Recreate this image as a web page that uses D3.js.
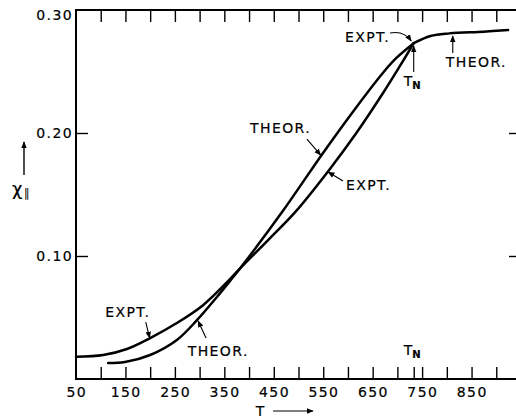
<!DOCTYPE html>
<html>
<head>
<meta charset="utf-8">
<script src="https://cdn.jsdelivr.net/npm/d3@7"></script>
<style>
  body { margin: 0; background: #fff; }
  svg { display: block; }
  text { font-family: "DejaVu Sans", sans-serif; fill: #000; stroke: #000; stroke-width: 0.2px; }
  .lbl { font-size: 14px; letter-spacing: 1.4px; }
</style>
</head>
<body>
<script>
// experimental curve, below T_N
var exptT   = [50, 105, 153, 200, 254, 307, 356, 382, 440, 495, 562, 617, 671, 704, 733];
var exptChi = [0.0181, 0.0195, 0.0244, 0.0333, 0.0455, 0.060, 0.0789, 0.090, 0.1135, 0.1365, 0.170, 0.200, 0.2325, 0.2537, 0.273];

// theoretical curve, below T_N
var theorT   = [115, 149, 200, 254, 295, 335, 368, 382, 469, 550, 617, 671, 698, 733];
var theorChi = [0.013, 0.0138, 0.0195, 0.0317, 0.048, 0.0667, 0.083, 0.090, 0.137, 0.184, 0.221, 0.249, 0.261, 0.273];

// both curves above T_N (they coincide)
var paraT   = [733, 767, 805, 874, 924];
var paraChi = [0.273, 0.2789, 0.281, 0.2824, 0.2837];

var tN = 733;
var xTickLabels = [50, 150, 250, 350, 450, 550, 650, 750, 850];
var xTickMarks = d3.range(100, 950, 50);
var yTickLabels = [0.10, 0.20, 0.30];
var yTickMarks = [0.10, 0.20];

var width = 516, height = 419;
var x = d3.scaleLinear().domain([50, 950]).range([76, 521]);
var y = d3.scaleLinear().domain([0, 0.30]).range([379, 10]);

var svg = d3.select("body").append("svg")
  .attr("width", width)
  .attr("height", height);

var defs = svg.append("defs");
defs.append("marker")
  .attr("id", "head")
  .attr("viewBox", "0 0 10 10")
  .attr("refX", 9).attr("refY", 5)
  .attr("markerWidth", 7).attr("markerHeight", 7)
  .attr("markerUnits", "userSpaceOnUse")
  .attr("orient", "auto")
  .append("path")
  .attr("d", "M0,1 L10,5 L0,9 Z")
  .attr("fill", "#000");

// frame
svg.append("path")
  .attr("d", "M" + x(950) + "," + y(0.30) + "H" + x(50) + "V" + y(0) + "H" + x(950))
  .attr("fill", "none")
  .attr("stroke", "#000")
  .attr("stroke-width", 2);

function styleTicks(g) {
  g.select(".domain").remove();
  g.selectAll(".tick line").attr("stroke", "#000").attr("stroke-width", 1.4);
  g.selectAll(".tick text").remove();
}

// inward ticks on all four sides
svg.append("g")
  .attr("transform", "translate(0," + y(0.30) + ")")
  .call(d3.axisBottom(x).tickValues(xTickMarks).tickSize(12))
  .call(styleTicks);
svg.append("g")
  .attr("transform", "translate(0," + y(0) + ")")
  .call(d3.axisTop(x).tickValues(xTickMarks.concat([tN])).tickSize(12))
  .call(styleTicks);
svg.append("g")
  .attr("transform", "translate(" + x(50) + ",0)")
  .call(d3.axisRight(y).tickValues(yTickMarks).tickSize(12))
  .call(styleTicks);
svg.append("g")
  .attr("transform", "translate(" + x(950) + ",0)")
  .call(d3.axisLeft(y).tickValues(yTickMarks).tickSize(12))
  .call(styleTicks);

// tick labels
svg.selectAll(".xl").data(xTickLabels).enter().append("text")
  .attr("class", "lbl")
  .attr("x", function(d) { return x(d) + 0.7; })
  .attr("y", y(0) + 18)
  .attr("text-anchor", "middle")
  .text(function(d) { return d; });

svg.selectAll(".yl").data(yTickLabels).enter().append("text")
  .attr("class", "lbl")
  .attr("x", x(50) - 3)
  .attr("y", function(d) { return d === 0.30 ? y(d) + 10 : y(d) + 5; })
  .attr("text-anchor", "end")
  .text(function(d) { return d.toFixed(2); });

// curves
var line = d3.line()
  .x(function(d) { return x(d[0]); })
  .y(function(d) { return y(d[1]); })
  .curve(d3.curveCatmullRom.alpha(0.5));

function pairs(a, b) { return a.map(function(v, i) { return [v, b[i]]; }); }

[pairs(exptT, exptChi), pairs(theorT, theorChi), pairs(paraT, paraChi)].forEach(function(p) {
  svg.append("path")
    .datum(p)
    .attr("d", line)
    .attr("fill", "none")
    .attr("stroke", "#000")
    .attr("stroke-width", 2.5)
    .attr("stroke-linecap", "round");
});

// annotations: text [T, chi] and arrow [from, (ctrl), to] in data units
var notes = [
  {t: "EXPT.",  at: [594, 0.2736], arrow: [[685, 0.2813], [713, 0.2835], [728, 0.2748]]},
  {t: "THEOR.", at: [798, 0.2537], arrow: [[812, 0.265], [812, 0.2789]]},
  {t: "THEOR.", at: [402, 0.200],  arrow: [[517, 0.195], [545, 0.182]]},
  {t: "EXPT.",  at: [596, 0.1537], arrow: [[590, 0.161], [560, 0.1683]]},
  {t: "EXPT.",  at: [109, 0.0504], arrow: [[191, 0.0463], [199, 0.0333]]},
  {t: "THEOR.", at: [276, 0.0187], arrow: [[313, 0.0333], [297, 0.0472]]}
];

notes.forEach(function(n) {
  svg.append("text")
    .attr("class", "lbl")
    .attr("x", x(n.at[0]))
    .attr("y", y(n.at[1]))
    .text(n.t);
  var a = n.arrow, d;
  if (a.length === 3) {
    d = "M" + x(a[0][0]) + "," + y(a[0][1]) + "Q" + x(a[1][0]) + "," + y(a[1][1]) + " " + x(a[2][0]) + "," + y(a[2][1]);
  } else {
    d = "M" + x(a[0][0]) + "," + y(a[0][1]) + "L" + x(a[1][0]) + "," + y(a[1][1]);
  }
  svg.append("path")
    .attr("d", d)
    .attr("fill", "none")
    .attr("stroke", "#000")
    .attr("stroke-width", 1.1)
    .attr("marker-end", "url(#head)");
});

// T_N labels
function tnLabel(cx, by) {
  var g = svg.append("text").attr("x", cx - 10).attr("y", by);
  g.append("tspan").attr("font-size", "14px").text("T");
  g.append("tspan").attr("font-size", "10px").attr("font-weight", "bold").attr("dy", 3).text("N");
}
tnLabel(x(tN), y(0.2382));
svg.append("path")
  .attr("d", "M" + x(tN) + "," + y(0.2496) + "V" + y(0.2707))
  .attr("stroke", "#000").attr("stroke-width", 1.1)
  .attr("marker-end", "url(#head)");
tnLabel(x(tN), y(0) - 24);

// axis titles
svg.append("text")
  .attr("x", 260).attr("y", 416)
  .attr("text-anchor", "middle")
  .attr("font-size", "14px")
  .text("T");
svg.append("path")
  .attr("d", "M273,411H313")
  .attr("stroke", "#000").attr("stroke-width", 1.1)
  .attr("marker-end", "url(#head)");

var yl = svg.append("text").attr("x", 12).attr("y", 195);
yl.append("tspan").attr("font-size", "18px").text("χ");
yl.append("tspan").attr("font-size", "12px").attr("stroke-width", 0).attr("dy", 2).attr("dx", 1).text("∥");
svg.append("path")
  .attr("d", "M24,175V142")
  .attr("stroke", "#000").attr("stroke-width", 1.4)
  .attr("marker-end", "url(#head)");
</script>
</body>
</html>
